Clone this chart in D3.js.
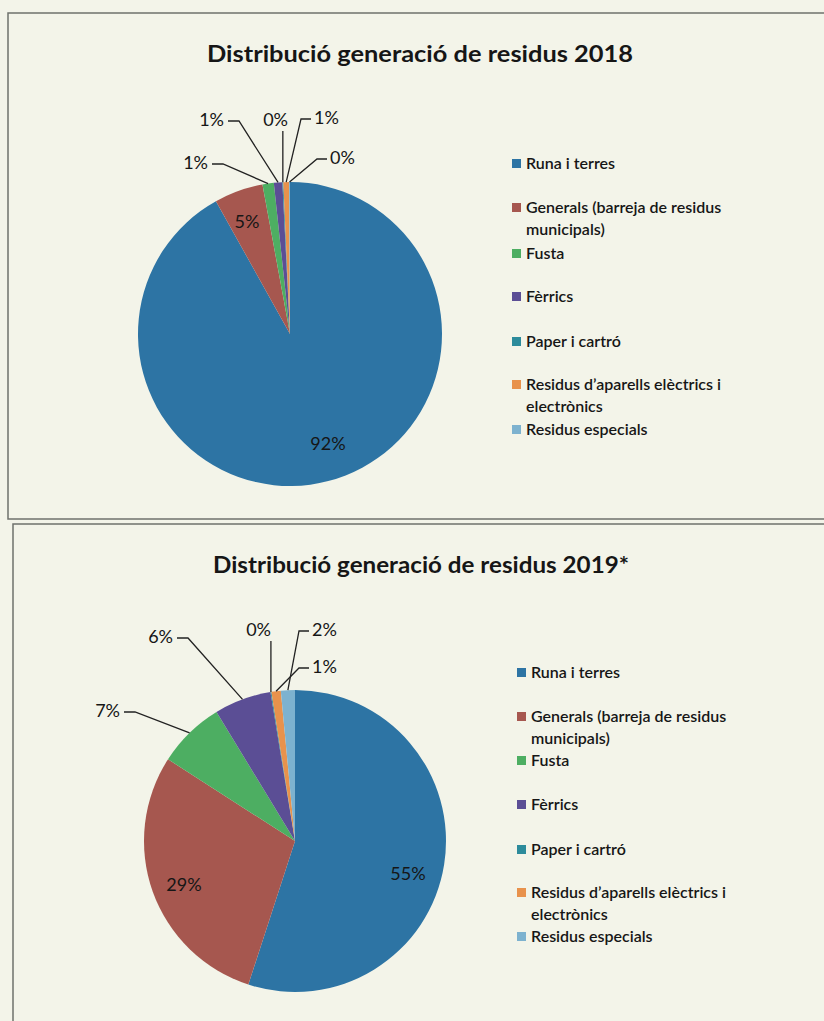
<!DOCTYPE html>
<meta charset="utf-8">
<style>
body { margin: 0; background: #f3f4e9; }
text { font-family: Lato, "Open Sans", sans-serif; fill: #161616; }
.title { font-weight: bold; font-size: 23px; }
.lbl { font-size: 18px; }
.leg { font-size: 16px; font-weight: 600; }
.box { fill: none; stroke: #6f716c; stroke-width: 1.5; }
.leader { fill: none; stroke: #222; stroke-width: 1.3; }
</style>
<body>
<script src="https://cdn.jsdelivr.net/npm/d3@7"></script>
<script>
// categories (legend order = slice order)
var categories = ["Runa i terres", "Generals (barreja de residus municipals)", "Fusta",
                  "Fèrrics", "Paper i cartró", "Residus d’aparells elèctrics i electrònics",
                  "Residus especials"];
// legend text split in lines as in the original
var legendLines = [["Runa i terres"], ["Generals (barreja de residus", "municipals)"], ["Fusta"],
                   ["Fèrrics"], ["Paper i cartró"], ["Residus d’aparells elèctrics i", "electrònics"],
                   ["Residus especials"]];
// percentages
var values2018 = [91.9, 5.2, 1.2, 0.9, 0.1, 0.6, 0.1];
var values2019 = [55.0, 29.1, 7.2, 6.1, 0.1, 1.0, 1.5];
var colors = ["#2d74a4", "#a6574f", "#4dae62", "#5b4e95", "#2c8b9b", "#e8924c", "#7db2cf"];

// layout of each chart (positions only)
var charts = [
  { title: "Distribució generació de residus 2018", values: values2018,
    box: [8, 13, 830, 506], titleX: 420, titleY: 62, titleW: 426, cx: 290, cy: 334, r: 152,
    legX: 512, legY: [164, 208, 254, 297, 342, 385, 430],
    labels: [
      {inside: true, x: 328, y: 450},
      {inside: true, x: 247, y: 228},
      {x: 208, y: 169, anchor: "end"},
      {x: 224, y: 126, anchor: "end"},
      {x: 288, y: 126, anchor: "end", vert: true},
      {x: 314, y: 124, anchor: "start"},
      {x: 330, y: 164, anchor: "start"}
    ]},
  { title: "Distribució generació de residus 2019*", values: values2019,
    box: [13, 524, 830, 520], titleX: 421, titleY: 573, titleW: 416, cx: 295, cy: 841, r: 151,
    legX: 517, legY: [673, 717, 761, 805, 850, 893, 937],
    labels: [
      {inside: true, x: 408, y: 880},
      {inside: true, x: 184, y: 891},
      {x: 120, y: 717, anchor: "end"},
      {x: 173, y: 643, anchor: "end"},
      {x: 271, y: 636, anchor: "end", vert: true},
      {x: 312, y: 673, anchor: "start"},
      {x: 312, y: 636, anchor: "start"}
    ]}
];

var svg = d3.select("body").append("svg")
    .attr("width", 824)
    .attr("height", 1021);

svg.append("rect").attr("width", 824).attr("height", 1021).attr("fill", "#f3f4e9");

var pie = d3.pie().sort(null).value(function(d) { return d; });

charts.forEach(function(c) {
  svg.append("rect").attr("class", "box")
      .attr("x", c.box[0]).attr("y", c.box[1])
      .attr("width", c.box[2]).attr("height", c.box[3]);

  svg.append("text").attr("class", "title")
      .attr("x", c.titleX).attr("y", c.titleY)
      .attr("text-anchor", "middle")
      .attr("textLength", c.titleW)
      .attr("lengthAdjust", "spacingAndGlyphs")
      .text(c.title);

  var arc = d3.arc().innerRadius(0).outerRadius(c.r);
  var g = svg.append("g").attr("transform", "translate(" + c.cx + "," + c.cy + ")");
  var arcs = pie(c.values);

  g.selectAll("path")
      .data(arcs)
    .enter().append("path")
      .attr("d", arc)
      .attr("fill", function(d, i) { return colors[i]; });

  // labels with leader lines
  arcs.forEach(function(d, i) {
    var L = c.labels[i];
    var txt = Math.round(d.data) + "%";
    svg.append("text").attr("class", "lbl")
        .attr("x", L.x).attr("y", L.y)
        .attr("text-anchor", L.inside ? "middle" : L.anchor)
        .text(txt);
    if (L.inside) return;
    var mid = (d.startAngle + d.endAngle) / 2;
    var px = c.cx + Math.sin(mid) * c.r,
        py = c.cy - Math.cos(mid) * c.r;
    var pts;
    if (L.vert) {
      pts = [[px, L.y + 5], [px, py]];
    } else if (L.anchor === "end") {
      pts = [[L.x + 4, L.y - 5], [L.x + 15, L.y - 5], [px, py]];
    } else {
      pts = [[L.x - 3, L.y - 5], [L.x - 13, L.y - 5], [px, py]];
    }
    svg.append("path").attr("class", "leader").attr("d", d3.line()(pts));
  });

  // legend
  var leg = svg.append("g");
  legendLines.forEach(function(lines, i) {
    var y = c.legY[i];
    leg.append("rect")
        .attr("x", c.legX).attr("y", y - 5)
        .attr("width", 9).attr("height", 9)
        .attr("fill", colors[i]);
    var t = leg.append("text").attr("class", "leg")
        .attr("x", c.legX + 14).attr("y", y + 5);
    lines.forEach(function(s, k) {
      t.append("tspan").attr("x", c.legX + 14).attr("dy", k ? 22 : 0).text(s);
    });
  });
});
</script>
</body>
